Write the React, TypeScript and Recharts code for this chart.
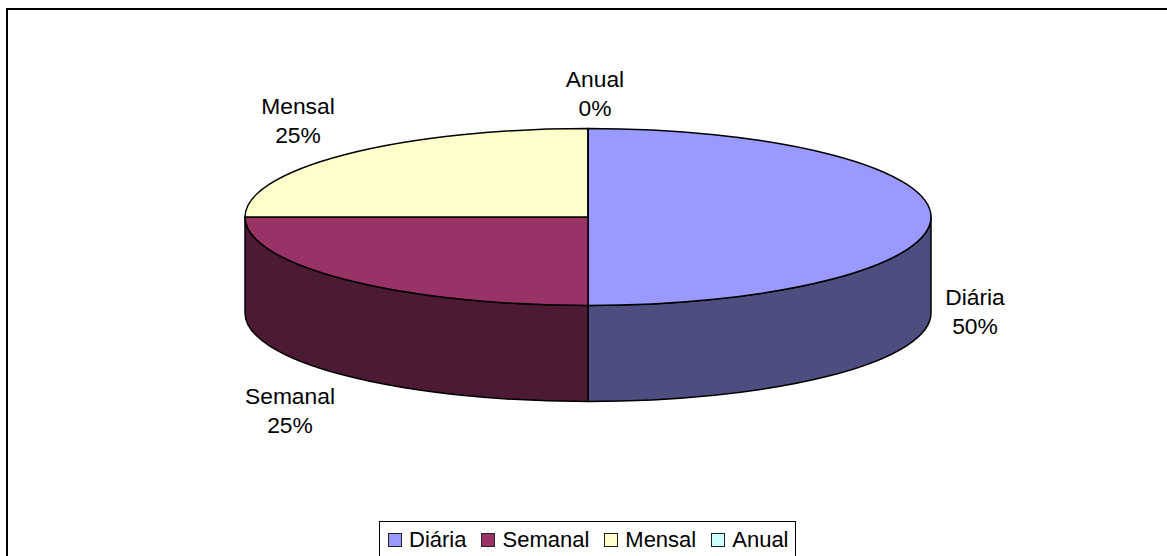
import { PieChart, Pie, Legend } from "recharts";

const names = ["Diária", "Semanal", "Mensal", "Anual"];
const shares = [50, 25, 25, 0];
const topColors = ["#9999FF", "#993366", "#FFFFCC", "#CCFFFF"];
const wallColors = ["#4D4D80", "#4D1A33", "#808066", "#668080"];

// label centres relative to the pie centre
const labelOffsets: Record<string, [number, number]> = {
  "Diária": [387, 95],
  Semanal: [-298, 194],
  Mensal: [-290, -96],
  Anual: [7, -123],
};

const CX = 588;
const CY = 217;
const RX = 343;
const RY = 88.5;
const DEPTH = 96;
const FONT = "'Liberation Sans', Arial, sans-serif";

const topData = names.map((name, i) => ({ name, value: shares[i], fill: topColors[i] }));
const wallData = names.map((name, i) => ({ name, value: shares[i], fill: wallColors[i] }));

const ex = (cx: number, a: number) => cx + RX * Math.cos((a * Math.PI) / 180);
const ey = (cy: number, a: number) => cy - RY * Math.sin((a * Math.PI) / 180);

function TopSector(props: any) {
  const { cx, cy, startAngle, endAngle, fill } = props;
  const large = Math.abs(startAngle - endAngle) > 180 ? 1 : 0;
  const d =
    `M${cx},${cy} L${ex(cx, startAngle)},${ey(cy, startAngle)} ` +
    `A${RX},${RY} 0 ${large} 1 ${ex(cx, endAngle)},${ey(cy, endAngle)} Z`;
  return <path d={d} fill={fill} stroke="#000" strokeWidth={1.5} strokeLinejoin="round" />;
}

// side of the cylinder, only the part facing the viewer
function WallSector(props: any) {
  const { cx, cy, startAngle, endAngle, fill } = props;
  const a0 = Math.min(startAngle, 0);
  const a1 = Math.max(endAngle, -180);
  if (a0 <= a1) return <g />;
  const d =
    `M${ex(cx, a0)},${ey(cy, a0)} ` +
    `A${RX},${RY} 0 0 1 ${ex(cx, a1)},${ey(cy, a1)} ` +
    `L${ex(cx, a1)},${ey(cy, a1) + DEPTH} ` +
    `A${RX},${RY} 0 0 0 ${ex(cx, a0)},${ey(cy, a0) + DEPTH} Z`;
  return <path d={d} fill={fill} stroke="#000" strokeWidth={1.5} strokeLinejoin="round" />;
}

function SliceLabel(props: any) {
  const { cx, cy, name, percent } = props;
  const [dx, dy] = labelOffsets[name];
  return (
    <text x={cx + dx} y={cy + dy} textAnchor="middle" fontFamily={FONT} fontSize={22.8} fill="#000">
      <tspan x={cx + dx} dy={-7}>{name}</tspan>
      <tspan x={cx + dx} dy={29}>{`${Math.round(percent * 100)}%`}</tspan>
    </text>
  );
}

function LegendBox() {
  return (
    <div
      style={{
        boxSizing: "border-box",
        width: 417,
        height: 60,
        border: "1px solid #000",
        background: "#fff",
        display: "flex",
        fontFamily: FONT,
        fontSize: 22,
        color: "#000",
        paddingLeft: 8,
        paddingTop: 3,
        lineHeight: "30px",
      }}
    >
      {names.map((name, i) => (
        <span key={name} style={{ display: "flex", alignItems: "center", height: 30, marginRight: 15 }}>
          <span
            style={{
              boxSizing: "border-box",
              width: 14,
              height: 14,
              background: topColors[i],
              border: "1.5px solid #222",
              marginRight: 7,
            }}
          />
          {name}
        </span>
      ))}
    </div>
  );
}

export default function App() {
  return (
    <div style={{ position: "absolute", left: 0, top: 0, width: 1167, height: 556, overflow: "hidden", background: "#fff" }}>
      <div
        style={{
          position: "absolute",
          left: 6,
          top: 8,
          width: 1170,
          height: 560,
          borderLeft: "2px solid #000",
          borderTop: "2px solid #000",
        }}
      />
      <div style={{ position: "absolute", left: 0, top: 0 }}>
        <PieChart width={1167} height={556} margin={{ top: 0, right: 0, bottom: 0, left: 0 }}>
          <Pie
            data={wallData}
            dataKey="value"
            nameKey="name"
            cx={CX}
            cy={CY}
            outerRadius={RX}
            startAngle={90}
            endAngle={-270}
            shape={WallSector}
            legendType="none"
            isAnimationActive={false}
          />
          <Pie
            data={topData}
            dataKey="value"
            nameKey="name"
            cx={CX}
            cy={CY}
            outerRadius={RX}
            startAngle={90}
            endAngle={-270}
            shape={TopSector}
            label={SliceLabel}
            labelLine={false}
            isAnimationActive={false}
          />
          <Legend
            content={<LegendBox />}
            layout="horizontal"
            verticalAlign="bottom"
            align="left"
            wrapperStyle={{ left: 379, top: 521, bottom: "auto", width: 417 }}
          />
        </PieChart>
      </div>
    </div>
  );
}
